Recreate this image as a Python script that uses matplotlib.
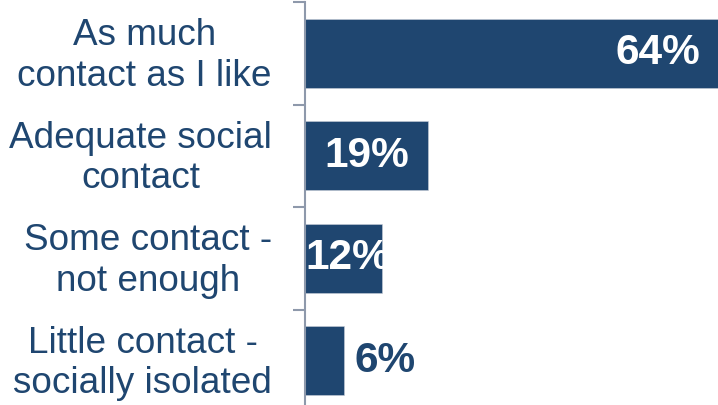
import matplotlib
matplotlib.use("Agg")
import matplotlib.pyplot as plt
from matplotlib.transforms import ScaledTranslation

categories = ["As much\ncontact as I like", "Adequate social\ncontact",
              "Some contact -\nnot enough", "Little contact -\nsocially isolated"]
values = [64, 19, 12, 6]
value_labels = ["64%", "19%", "12%", "6%"]

navy = "#1F4670"
axis_gray = "#8E99AB"

plt.rcParams['font.family'] = ['Liberation Sans', 'DejaVu Sans']

fig = plt.figure(figsize=(7.18, 4.05), dpi=100)
ax = fig.add_axes([305/718, -7/405, 413/718, 410/405])

ypos = list(range(len(categories)))
bars = ax.barh(ypos, values, height=0.675, color=navy, edgecolor="#C8CED8", linewidth=0.4)
ax.set_xlim(0, 64)
ax.set_ylim(3.5, -0.5)

for s in ["top", "right", "bottom"]:
    ax.spines[s].set_visible(False)
ax.spines["left"].set_color(axis_gray)
ax.spines["left"].set_linewidth(1.5)
ax.set_xticks([])

ax.set_yticks(ypos)
ax.set_yticklabels(categories, fontsize=26.6, color=navy, multialignment="center", linespacing=1.2)
ax.tick_params(axis="y", which="major", length=0, pad=23.8)
ax.set_yticks([-0.5, 0.5, 1.5, 2.5, 3.5], minor=True)
ax.tick_params(axis="y", which="minor", length=9, width=1.5, color=axis_gray)
shift = ScaledTranslation(0, 4/100, fig.dpi_scale_trans)
for lbl in ax.get_yticklabels():
    lbl.set_transform(lbl.get_transform() + shift)

for i, (bar, v, lab) in enumerate(zip(bars, values, value_labels)):
    yc = bar.get_y() + bar.get_height() / 2
    if v >= 15:
        t = ax.text(v - 64/413*18, yc, lab, ha="right", va="center", color="white",
                    fontsize=30.5, fontweight="bold")
    elif v >= 9:
        t = ax.text(0.1, yc, lab, ha="left", va="center", color="white",
                    fontsize=30.5, fontweight="bold")
        t.set_clip_path(bar)
    else:
        t = ax.text(v + 1.7, yc, lab, ha="left", va="center", color=navy,
                    fontsize=30.5, fontweight="bold")

fig.savefig("out.png", dpi=100)
